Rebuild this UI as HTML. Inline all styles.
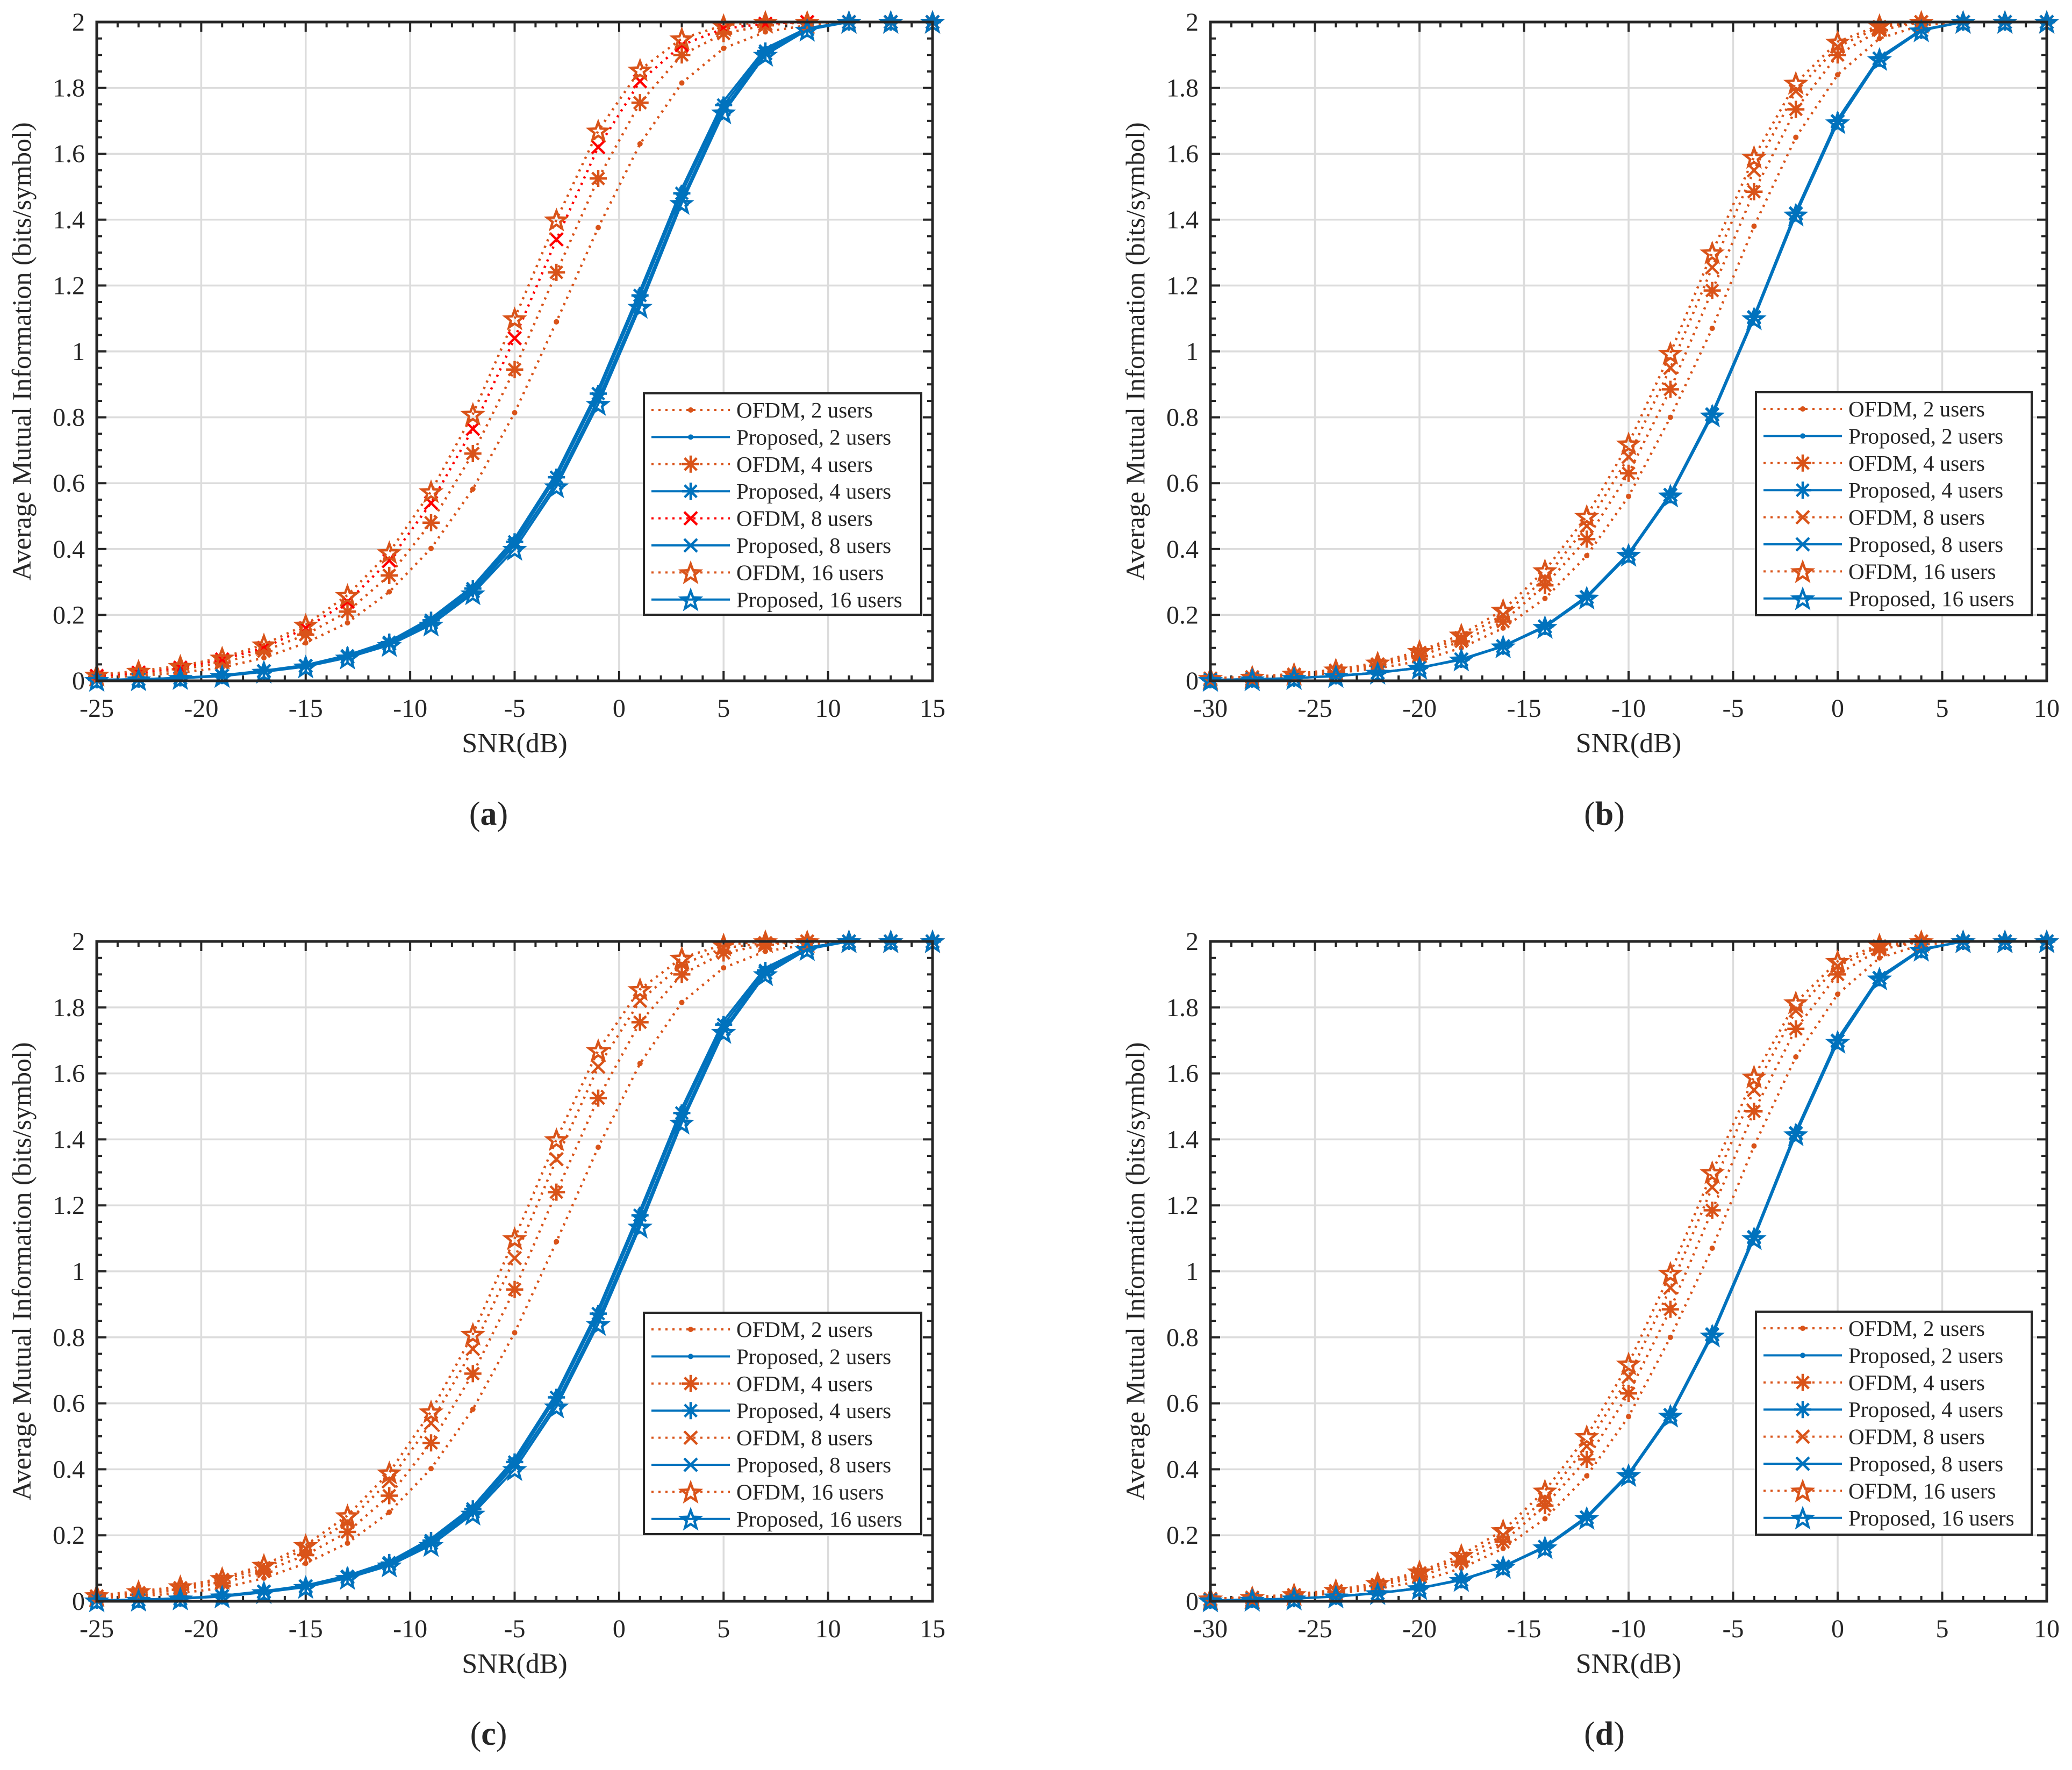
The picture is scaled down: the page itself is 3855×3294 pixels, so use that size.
<!DOCTYPE html>
<html><head><meta charset="utf-8"><style>
html,body{margin:0;padding:0;background:#fff;}
svg{display:block;}
text{font-family:"Liberation Serif","Times New Roman",serif;fill:#262626;}
</style></head><body>
<svg id="fig" width="3855" height="3294" viewBox="0 0 3855 3294" xmlns="http://www.w3.org/2000/svg" font-family="Liberation Serif, serif"></svg>
<script>
// ---- data ----
const snrA = [-25,-23,-21,-19,-17,-15,-13,-11,-9,-7,-5,-3,-1,1,3,5,7,9,11,13,15];
const snrB = [-30,-28,-26,-24,-22,-20,-18,-16,-14,-12,-10,-8,-6,-4,-2,0,2,4,6,8,10];
const xTicksA = [-25,-20,-15,-10,-5,0,5,10,15];
const xTicksB = [-30,-25,-20,-15,-10,-5,0,5,10];
const yTicks = [0,0.2,0.4,0.6,0.8,1,1.2,1.4,1.6,1.8,2];
const yTickLabels = ["0","0.2","0.4","0.6","0.8","1","1.2","1.4","1.6","1.8","2"];
const legendLabels = ["OFDM, 2 users","Proposed, 2 users","OFDM, 4 users","Proposed, 4 users","OFDM, 8 users","Proposed, 8 users","OFDM, 16 users","Proposed, 16 users"];

// panel (a)
const aOfdm2  = [0.010,0.015,0.025,0.040,0.070,0.115,0.176,0.270,0.402,0.582,0.814,1.090,1.376,1.630,1.815,1.920,1.970,1.990,2,2,2];
const aProp2  = [0.003,0.005,0.009,0.017,0.031,0.048,0.078,0.120,0.190,0.287,0.432,0.630,0.885,1.185,1.495,1.760,1.920,1.982,2,2,2];
const aOfdm4  = [0.012,0.020,0.035,0.055,0.090,0.140,0.210,0.320,0.480,0.690,0.945,1.240,1.525,1.755,1.900,1.965,1.990,2.000,2,2,2];
const aProp4  = [0.003,0.005,0.009,0.016,0.030,0.046,0.076,0.117,0.184,0.280,0.422,0.618,0.872,1.170,1.480,1.748,1.912,1.980,2,2,2];
const aOfdm8  = [0.015,0.025,0.040,0.065,0.100,0.160,0.240,0.365,0.540,0.765,1.040,1.340,1.620,1.820,1.930,1.980,1.995,2.000,2,2,2];
const aProp8  = [0.003,0.005,0.008,0.015,0.029,0.045,0.073,0.113,0.177,0.272,0.412,0.602,0.855,1.150,1.462,1.735,1.905,1.978,2,2,2];
const aOfdm16 = [0.018,0.030,0.045,0.070,0.110,0.170,0.260,0.390,0.575,0.810,1.100,1.400,1.670,1.855,1.950,1.990,2.000,2.000,2,2,2];
const aProp16 = [0.002,0.004,0.008,0.014,0.027,0.043,0.070,0.108,0.170,0.265,0.400,0.590,0.840,1.135,1.450,1.725,1.900,1.976,2,2,2];

// panel (b)
const bOfdm2  = [0.005,0.008,0.014,0.024,0.038,0.060,0.100,0.160,0.250,0.380,0.560,0.800,1.070,1.380,1.650,1.840,1.950,1.990,2,2,2];
const bProp2  = [0.003,0.005,0.008,0.015,0.025,0.040,0.066,0.106,0.166,0.257,0.387,0.568,0.813,1.108,1.425,1.705,1.893,1.977,2,2,2];
const bOfdm4  = [0.006,0.010,0.017,0.028,0.046,0.075,0.120,0.180,0.290,0.430,0.630,0.885,1.185,1.485,1.735,1.900,1.975,2.000,2,2,2];
const bProp4  = [0.003,0.005,0.008,0.015,0.025,0.040,0.065,0.105,0.165,0.255,0.385,0.565,0.810,1.105,1.420,1.700,1.890,1.975,2,2,2];
const bOfdm8  = [0.007,0.011,0.019,0.031,0.050,0.085,0.130,0.200,0.310,0.470,0.680,0.950,1.255,1.550,1.790,1.925,1.985,2.000,2,2,2];
const bProp8  = [0.003,0.005,0.008,0.015,0.025,0.040,0.065,0.105,0.165,0.254,0.384,0.564,0.808,1.103,1.418,1.698,1.889,1.975,2,2,2];
const bOfdm16 = [0.008,0.012,0.021,0.034,0.055,0.090,0.140,0.215,0.335,0.500,0.720,0.995,1.300,1.590,1.815,1.940,1.990,2.000,2,2,2];
const bProp16 = [0.002,0.004,0.008,0.014,0.024,0.039,0.064,0.104,0.163,0.252,0.382,0.562,0.805,1.100,1.415,1.695,1.887,1.974,2,2,2];

// panel (c)
const cOfdm2  = [0.010,0.015,0.025,0.040,0.070,0.115,0.176,0.270,0.402,0.582,0.814,1.090,1.376,1.630,1.815,1.920,1.970,1.990,2,2,2];
const cProp2  = [0.003,0.005,0.009,0.017,0.031,0.048,0.078,0.120,0.190,0.287,0.432,0.630,0.885,1.185,1.495,1.760,1.920,1.982,2,2,2];
const cOfdm4  = [0.012,0.020,0.035,0.055,0.090,0.140,0.210,0.320,0.480,0.690,0.945,1.240,1.525,1.755,1.900,1.965,1.990,2.000,2,2,2];
const cProp4  = [0.003,0.005,0.009,0.016,0.030,0.046,0.076,0.117,0.184,0.280,0.422,0.618,0.872,1.170,1.480,1.748,1.912,1.980,2,2,2];
const cOfdm8  = [0.015,0.025,0.040,0.065,0.100,0.160,0.240,0.365,0.540,0.765,1.040,1.340,1.620,1.820,1.930,1.980,1.995,2.000,2,2,2];
const cProp8  = [0.003,0.005,0.008,0.015,0.029,0.045,0.073,0.113,0.177,0.272,0.412,0.602,0.855,1.150,1.462,1.735,1.905,1.978,2,2,2];
const cOfdm16 = [0.018,0.030,0.045,0.070,0.110,0.170,0.260,0.390,0.575,0.810,1.100,1.400,1.670,1.855,1.950,1.990,2.000,2.000,2,2,2];
const cProp16 = [0.002,0.004,0.008,0.014,0.027,0.043,0.070,0.108,0.170,0.265,0.400,0.590,0.840,1.135,1.450,1.725,1.900,1.976,2,2,2];

// panel (d)
const dOfdm2  = [0.005,0.008,0.014,0.024,0.038,0.060,0.100,0.160,0.250,0.380,0.560,0.800,1.070,1.380,1.650,1.840,1.950,1.990,2,2,2];
const dProp2  = [0.003,0.005,0.008,0.015,0.025,0.040,0.066,0.106,0.166,0.257,0.387,0.568,0.813,1.108,1.425,1.705,1.893,1.977,2,2,2];
const dOfdm4  = [0.006,0.010,0.017,0.028,0.046,0.075,0.120,0.180,0.290,0.430,0.630,0.885,1.185,1.485,1.735,1.900,1.975,2.000,2,2,2];
const dProp4  = [0.003,0.005,0.008,0.015,0.025,0.040,0.065,0.105,0.165,0.255,0.385,0.565,0.810,1.105,1.420,1.700,1.890,1.975,2,2,2];
const dOfdm8  = [0.007,0.011,0.019,0.031,0.050,0.085,0.130,0.200,0.310,0.470,0.680,0.950,1.255,1.550,1.790,1.925,1.985,2.000,2,2,2];
const dProp8  = [0.003,0.005,0.008,0.015,0.025,0.040,0.065,0.105,0.165,0.254,0.384,0.564,0.808,1.103,1.418,1.698,1.889,1.975,2,2,2];
const dOfdm16 = [0.008,0.012,0.021,0.034,0.055,0.090,0.140,0.215,0.335,0.500,0.720,0.995,1.300,1.590,1.815,1.940,1.990,2.000,2,2,2];
const dProp16 = [0.002,0.004,0.008,0.014,0.024,0.039,0.064,0.104,0.163,0.252,0.382,0.562,0.805,1.100,1.415,1.695,1.887,1.974,2,2,2];

// ---- drawing ----
const NS = "http://www.w3.org/2000/svg";
const svg = document.getElementById('fig');
const ORANGE = "#D95319", BLUE = "#0072BD", RED = "#FF0000", AX = "#262626", GRID = "#dcdcdc";
const FONT = '"Liberation Serif", serif';
function mk(tag, attrs, parent){
  const e = document.createElementNS(NS, tag);
  for (const k in attrs) e.setAttribute(k, attrs[k]);
  if (tag === 'text') e.setAttribute('font-family', FONT);
  (parent || svg).appendChild(e);
  return e;
}
function markerPath(type, cx, cy){
  if (type === 'ast'){ const r=16, d=r*0.707;
    return `M${cx} ${cy-r}V${cy+r}M${cx-d} ${cy-d}L${cx+d} ${cy+d}M${cx+d} ${cy-d}L${cx-d} ${cy+d}M${cx-r} ${cy}H${cx+r}`; }
  if (type === 'x'){ const r=12; return `M${cx-r} ${cy-r}L${cx+r} ${cy+r}M${cx+r} ${cy-r}L${cx-r} ${cy+r}`; }
  if (type === 'star'){ let p=''; const R=18, ri=7.5;
    for (let i=0;i<10;i++){ const a=-Math.PI/2+i*Math.PI/5; const r=i%2?ri:R;
      p += (i?'L':'M') + (cx+r*Math.cos(a)).toFixed(1)+' '+(cy+r*Math.sin(a)+2).toFixed(1); }
    return p+'Z'; }
}
function drawMarker(g, type, color, cx, cy){
  if (type === 'dot'){
    const c = mk('circle',{cx:cx,cy:cy,r:5,fill:color},g);
    
    
    return;
  }
  const p = mk('path',{d:markerPath(type,cx,cy),fill:'none',stroke:color,'stroke-width':4.5},g);
  
  
}

function panel(id, L, T, R, B, xmin, xmax, xTicks, snr, series, legBox, capX, capY){
  const g = mk('g',{});
  
  
  const sx = v => L + (v - xmin)/(xmax - xmin)*(R - L);
  const sy = v => B - v/2*(B - T);
  for (const t of xTicks){ if (t===xmin||t===xmax) continue;
    const l = mk('line',{x1:sx(t),x2:sx(t),y1:T,y2:B,stroke:GRID,'stroke-width':3.5},g);
      }
  for (const t of yTicks){ if (t===0||t===2) continue;
    const l = mk('line',{x1:L,x2:R,y1:sy(t),y2:sy(t),stroke:GRID,'stroke-width':3.5},g);
      }
  let td = '';
  for (let v=xmin; v<=xmax; v++){ const len = (v%5===0)?18:10; const x=sx(v);
    td += `M${x} ${B}V${B-len}M${x} ${T}V${T+len}`; }
  for (let k=0;k<=40;k++){ const v=k*0.05; const len=(k%4===0)?18:10; const y=sy(v);
    td += `M${L} ${y}H${L+len}M${R} ${y}H${R-len}`; }
  const tk = mk('path',{d:td,stroke:AX,'stroke-width':4,fill:'none'},g);
   
  series.forEach((s, i) => {
    const sg = mk('g',{},g);
    
    
    const pts = snr.map((x,j)=> sx(x).toFixed(1)+','+sy(s.data[j]).toFixed(1)).join(' ');
    const attrs = {points:pts,fill:'none',stroke:s.color,'stroke-width':4};
    if (s.dash){ attrs['stroke-dasharray']='4 9'; attrs['stroke-width']=4.5; }
    const pl = mk('polyline',attrs,sg);
    
    
    snr.forEach((x,j)=> drawMarker(sg, s.marker, s.color, sx(x), sy(s.data[j])));
  });
  const bx = mk('rect',{x:L,y:T,width:R-L,height:B-T,fill:'none',stroke:AX,'stroke-width':5},g);
   
  xTicks.forEach(t => {
    const tx = mk('text',{x:sx(t),y:B+67,'font-size':48,'text-anchor':'middle'},g);
    tx.textContent = String(t);
     
  });
  yTicks.forEach((t,k) => {
    const tx = mk('text',{x:L-22,y:sy(t)+16,'font-size':48,'text-anchor':'end'},g);
    tx.textContent = yTickLabels[k];
     
  });
  const xl = mk('text',{x:(L+R)/2,y:B+133,'font-size':52,'text-anchor':'middle'},g);
  xl.textContent = 'SNR(dB)';
   
  const yc = (T+B)/2, yx = L-123;
  const yl = mk('text',{x:yx,y:yc,'font-size':50,'text-anchor':'middle',transform:`rotate(-90 ${yx} ${yc})`},g);
  yl.textContent = 'Average Mutual Information (bits/symbol)';
   
  const lg = mk('g',{},g);
   
  const [lx, ly, lw, lh] = legBox;
  mk('rect',{x:lx,y:ly,width:lw,height:lh,fill:'#fff',stroke:AX,'stroke-width':4},lg);
  series.forEach((s,i) => {
    const y = ly + 31 + i*50.4;
    const eg = mk('g',{},lg);
    
    
    const la = {x1:lx+14,x2:lx+160,y1:y,y2:y,stroke:s.color,'stroke-width':4};
    if (s.dash) la['stroke-dasharray']='4 9';
    mk('line',la,eg);
    drawMarker(eg, s.marker, s.color, lx+87, y);
    const tx = mk('text',{x:lx+172,y:y+14,'font-size':41},eg);
    tx.textContent = legendLabels[i];
  });
  const cp = mk('text',{x:capX,y:capY,'font-size':62,'text-anchor':'middle'},g);
  cp.innerHTML = '(<tspan font-weight="bold">'+id+'</tspan>)';
   
}

function mkSeries(o2,p2,o4,p4,o8,p8,o16,p16,red8){
  return [
    {key:'ofdm-2',data:o2,color:ORANGE,dash:true,marker:'dot'},
    {key:'proposed-2',data:p2,color:BLUE,dash:false,marker:'dot'},
    {key:'ofdm-4',data:o4,color:ORANGE,dash:true,marker:'ast'},
    {key:'proposed-4',data:p4,color:BLUE,dash:false,marker:'ast'},
    {key:'ofdm-8',data:o8,color:red8?RED:ORANGE,dash:true,marker:'x'},
    {key:'proposed-8',data:p8,color:BLUE,dash:false,marker:'x'},
    {key:'ofdm-16',data:o16,color:ORANGE,dash:true,marker:'star'},
    {key:'proposed-16',data:p16,color:BLUE,dash:false,marker:'star'}
  ];
}
panel('a',180,41,1735,1267,-25,15,xTicksA,snrA,mkSeries(aOfdm2,aProp2,aOfdm4,aProp4,aOfdm8,aProp8,aOfdm16,aProp16,true),[1198,732,516,412],909,1535);
panel('b',2252,41,3808,1267,-30,10,xTicksB,snrB,mkSeries(bOfdm2,bProp2,bOfdm4,bProp4,bOfdm8,bProp8,bOfdm16,bProp16,false),[3267,730,513,415],2985,1535);
panel('c',180,1752,1735,2980,-25,15,xTicksA,snrA,mkSeries(cOfdm2,cProp2,cOfdm4,cProp4,cOfdm8,cProp8,cOfdm16,cProp16,false),[1198,2443,516,412],909,3247);
panel('d',2252,1752,3808,2980,-30,10,xTicksB,snrB,mkSeries(dOfdm2,dProp2,dOfdm4,dProp4,dOfdm8,dProp8,dOfdm16,dProp16,false),[3267,2441,513,415],2985,3247);
</script>
</body></html>
